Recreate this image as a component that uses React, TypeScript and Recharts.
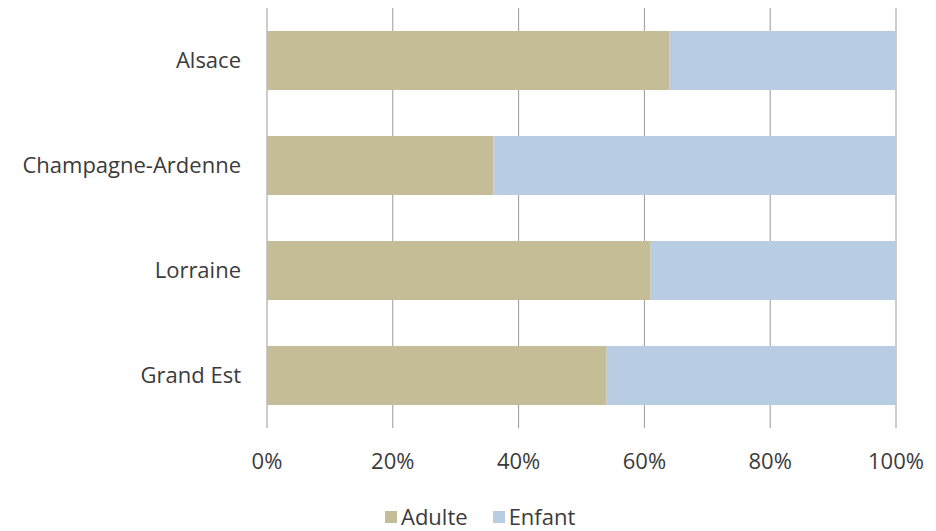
import React from 'react';
import { BarChart, Bar, XAxis, YAxis, CartesianGrid } from 'recharts';

const regions = ['Alsace', 'Champagne-Ardenne', 'Lorraine', 'Grand Est'];
const adulte = [64, 36, 61, 54];
const enfant = [36, 64, 39, 46];
const xTicks = [0, 20, 40, 60, 80, 100];

const seriesNames = ['Adulte', 'Enfant'];
const seriesColors = ['#c4bd97', '#b8cce4'];

const data = regions.map((r, i) => ({ region: r, Adulte: adulte[i], Enfant: enfant[i] }));

const FONT = '"Open Sans", sans-serif';
const TEXT = '#3b3b3b';

const LegendBox = () => (
  <div
    style={{
      position: 'absolute',
      left: 385,
      top: 501,
      display: 'flex',
      alignItems: 'center',
      fontFamily: FONT,
      fontSize: 22,
      lineHeight: '30px',
      color: TEXT,
    }}
  >
    {seriesNames.map((n, i) => (
      <div key={n} style={{ display: 'flex', alignItems: 'center', marginRight: i === 0 ? 25 : 0 }}>
        <span style={{ display: 'inline-block', width: 12, height: 12, background: seriesColors[i], marginRight: 4, marginTop: 2 }} />
        <span>{n}</span>
      </div>
    ))}
  </div>
);

export default function App() {
  return (
    <div style={{ position: 'fixed', left: 0, top: 0, width: 936, height: 531, background: '#fff', overflow: 'hidden' }}>
      <BarChart
        width={936}
        height={531}
        data={data}
        layout="vertical"
        margin={{ top: 8, right: 40, bottom: 43, left: 0 }}
        barCategoryGap="22%"
      >
        <CartesianGrid horizontal={false} stroke="#999" strokeWidth={1} />
        <XAxis
          type="number"
          domain={[0, 100]}
          ticks={xTicks}
          tickFormatter={(v: number) => `${v}%`}
          axisLine={false}
          tickLine={false}
          tickMargin={19}
          height={60}
          interval={0}
          tick={{ fill: TEXT, fontSize: 22, fontFamily: FONT }}
        />
        <YAxis
          type="category"
          dataKey="region"
          width={267}
          axisLine={false}
          tickLine={false}
          tickMargin={20}
          interval={0}
          tick={{ fill: TEXT, fontSize: 22, fontFamily: FONT }}
        />
        <Bar dataKey="Adulte" stackId="a" fill={seriesColors[0]} isAnimationActive={false} />
        <Bar dataKey="Enfant" stackId="a" fill={seriesColors[1]} isAnimationActive={false} />
      </BarChart>
      <LegendBox />
    </div>
  );
}
